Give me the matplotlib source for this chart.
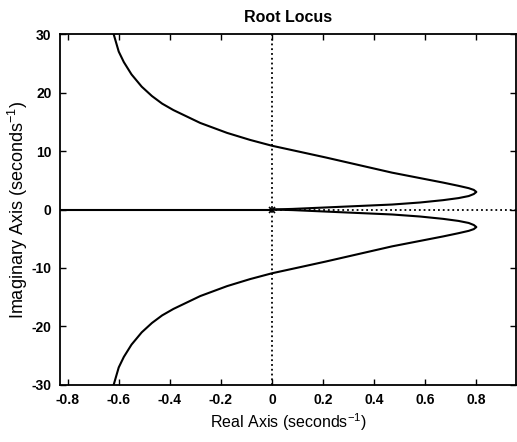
import numpy as np
import matplotlib
matplotlib.use("Agg")
import matplotlib.pyplot as plt

# upper complex branch (origin -> tip -> top left)
upper_re = [0.0, 0.08, 0.21, 0.34, 0.47, 0.58, 0.67, 0.73, 0.77, 0.79, 0.8,
            0.79, 0.77, 0.73, 0.67, 0.57, 0.47, 0.34, 0.21, 0.1, 0.0,
            -0.086, -0.176, -0.281, -0.386, -0.43, -0.47, -0.51, -0.55,
            -0.58, -0.60, -0.62]
upper_im = [0.0, 0.1, 0.35, 0.6, 0.85, 1.2, 1.6, 1.95, 2.3, 2.65, 3.0,
            3.35, 3.65, 4.05, 4.6, 5.45, 6.3, 7.6, 8.9, 9.95, 10.9,
            11.9, 13.1, 14.8, 17.0, 18.1, 19.4, 21.0, 23.1,
            25.2, 27.0, 30.0]
# real-axis branch
real_re = [-1.0, 0.0]
real_im = [0.0, 0.0]
# open-loop pole
pole_re = [0.0]
pole_im = [0.0]

xticks = [-0.8, -0.6, -0.4, -0.2, 0, 0.2, 0.4, 0.6, 0.8]
yticks = [-30, -20, -10, 0, 10, 20, 30]

plt.rcParams["font.family"] = ["Liberation Sans", "DejaVu Sans"]
plt.rcParams["axes.unicode_minus"] = False
plt.rcParams["mathtext.fontset"] = "custom"
plt.rcParams["mathtext.rm"] = "Liberation Sans"
plt.rcParams["mathtext.it"] = "Liberation Sans"

fig = plt.figure(figsize=(5.17, 4.42), dpi=100)
ax = fig.add_axes([0.116, 0.129, 0.882, 0.794])

re = np.array(upper_re)
im = np.array(upper_im)
ax.plot(re, im, "k-", lw=1.5, solid_joinstyle="round")
ax.plot(re, -im, "k-", lw=1.5, solid_joinstyle="round")
ax.plot(real_re, real_im, "k-", lw=1.5)
ax.axvline(0, color="k", ls=":", lw=1.3, zorder=1)
ax.axhline(0, color="k", ls=":", lw=1.3, zorder=1)
ax.plot(pole_re, pole_im, "kx", ms=5, mew=1.2)

ax.set_xlim(-0.83, 0.955)
ax.set_ylim(-30, 30)
ax.set_xticks(xticks)
ax.set_xticklabels([f"{v:g}" for v in xticks])
ax.set_yticks(yticks)
ax.tick_params(direction="in", top=True, right=True, length=4, width=1,
               labelsize=10, pad=6)
for lab in ax.get_xticklabels() + ax.get_yticklabels():
    lab.set_fontweight("bold")
for s in ax.spines.values():
    s.set_linewidth(1.3)

ax.set_title("Root Locus", fontsize=11.5, fontweight="bold", pad=9)
ax.set_xlabel("Real Axis (seconds$^{-1}$)", fontsize=11.5, labelpad=3)
ax.set_ylabel("Imaginary Axis (seconds$^{-1}$)", fontsize=13, labelpad=1)

fig.savefig("out.png", dpi=100)
